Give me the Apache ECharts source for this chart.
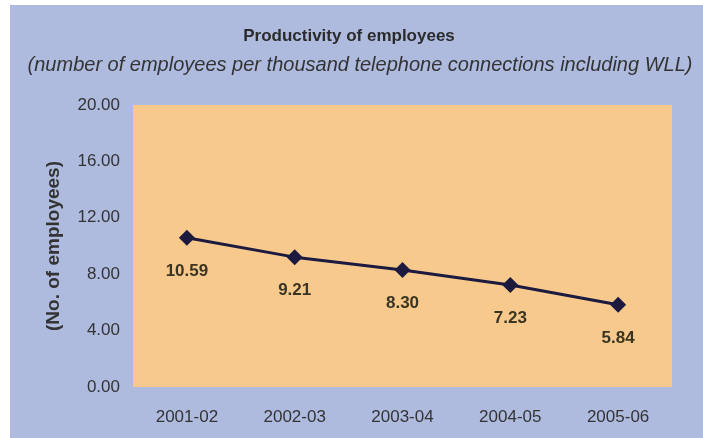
<!DOCTYPE html>
<html>
<head>
<meta charset="utf-8">
<script src="https://cdn.jsdelivr.net/npm/echarts@6/dist/echarts.min.js"></script>
<style>
  html, body { margin: 0; padding: 0; background: #fff; }
  #chart { width: 703px; height: 438px; }
</style>
</head>
<body>
<div id="chart"></div>
<script>
// data
var years = ['2001-02', '2002-03', '2003-04', '2004-05', '2005-06'];
var employees = [10.59, 9.21, 8.30, 7.23, 5.84];
var yTicks = [0, 4, 8, 12, 16, 20];

var chart = echarts.init(document.getElementById('chart'));

var option = {
  animation: false,
  backgroundColor: '#fff',
  // blue panel behind everything
  graphic: [{
    type: 'rect',
    z: -10,
    shape: { x: 10, y: 5, width: 693, height: 433 },
    style: { fill: '#aebbdf' }
  }],
  title: [{
    text: 'Productivity of employees',
    left: 344, top: 23, textAlign: 'center',
    textStyle: { fontFamily: 'Liberation Sans', fontSize: 17, fontWeight: 'bold', color: '#2b2b2b' }
  }, {
    text: '(number of employees per thousand telephone connections including WLL)',
    left: 355, top: 50, textAlign: 'center',
    textStyle: { fontFamily: 'Liberation Sans', fontSize: 20, fontStyle: 'italic', fontWeight: 'normal', color: '#333' }
  }],
  grid: {
    left: 133, right: 31, top: 105, bottom: 51,
    show: true, backgroundColor: '#f7c98d', borderWidth: 0
  },
  xAxis: {
    type: 'category',
    data: years,
    boundaryGap: true,
    axisLine: { show: false },
    axisTick: { show: false },
    axisLabel: { margin: 22, fontFamily: 'Liberation Sans', fontSize: 17, color: '#333' }
  },
  yAxis: {
    type: 'value',
    min: yTicks[0], max: yTicks[yTicks.length - 1], interval: 4,
    name: '(No. of employees)',
    nameLocation: 'middle',
    nameGap: 70,
    nameTextStyle: { fontFamily: 'Liberation Sans', fontSize: 19, fontWeight: 'bold', color: '#333' },
    axisLine: { show: false },
    axisTick: { show: false },
    splitLine: { show: false },
    axisLabel: {
      margin: 13, fontFamily: 'Liberation Sans', fontSize: 17, color: '#333',
      formatter: function (v) { return v.toFixed(2); }
    }
  },
  series: [{
    type: 'line',
    data: employees,
    symbol: 'diamond',
    symbolSize: 16,
    lineStyle: { color: '#1c1a3e', width: 3 },
    itemStyle: { color: '#1c1a3e' },
    label: {
      show: true, position: 'bottom', distance: 17,
      fontFamily: 'Liberation Sans', fontSize: 17, fontWeight: 'bold', color: '#3a3422',
      formatter: function (p) { return p.value.toFixed(2); }
    }
  }]
};

chart.setOption(option);
</script>
</body>
</html>
